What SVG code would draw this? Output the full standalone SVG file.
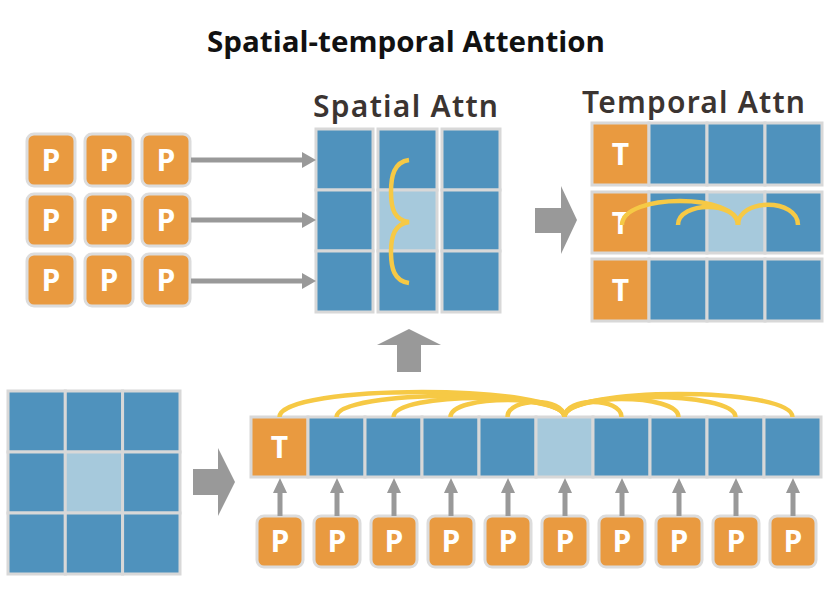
<svg xmlns="http://www.w3.org/2000/svg" width="830" height="600" viewBox="0 0 830 600">
<style>
.p{fill:#E99A40;stroke:#DCDCDC;stroke-width:3}
.b{fill:#4F92BD;stroke:#D8D8D8;stroke-width:3}
.l{fill:#A6C9DC;stroke:#D8D8D8;stroke-width:3}
.o{fill:#E99A40;stroke:#D8D8D8;stroke-width:3}
.t{fill:#fff;font-family:'Open Sans',sans-serif;font-weight:700;font-size:30px;text-anchor:middle}
.arc{fill:none;stroke:#F6C945;stroke-width:4.5;stroke-linecap:butt}
.ln{stroke:#999;stroke-width:5}
.hd{fill:#999}
.h2{font-family:'Noto Sans',sans-serif;font-weight:600;font-size:30px;fill:#3B3431;letter-spacing:2px}
</style>
<rect width="830" height="600" fill="#fff"/>
<text x="406" y="52" text-anchor="middle" font-family="'Open Sans', sans-serif" font-weight="700" font-size="29" textLength="398" lengthAdjust="spacingAndGlyphs" fill="#111">Spatial-temporal Attention</text>

<g id="patches-grid">
<rect class="p" x="27" y="134" width="48" height="52" rx="7"/><text class="t" x="51" y="171">P</text>
<rect class="p" x="85" y="134" width="48" height="52" rx="7"/><text class="t" x="109" y="171">P</text>
<rect class="p" x="142" y="134" width="48" height="52" rx="7"/><text class="t" x="166" y="171">P</text>
<rect class="p" x="27" y="194" width="48" height="52" rx="7"/><text class="t" x="51" y="231">P</text>
<rect class="p" x="85" y="194" width="48" height="52" rx="7"/><text class="t" x="109" y="231">P</text>
<rect class="p" x="142" y="194" width="48" height="52" rx="7"/><text class="t" x="166" y="231">P</text>
<rect class="p" x="27" y="254" width="48" height="52" rx="7"/><text class="t" x="51" y="291">P</text>
<rect class="p" x="85" y="254" width="48" height="52" rx="7"/><text class="t" x="109" y="291">P</text>
<rect class="p" x="142" y="254" width="48" height="52" rx="7"/><text class="t" x="166" y="291">P</text>
</g>

<g id="spatial-attn">
<text class="h2" x="313" y="117" textLength="187">Spatial Attn</text>
<rect class="b" x="316" y="129" width="57" height="61"/>
<rect class="b" x="316" y="190" width="57" height="61"/>
<rect class="b" x="316" y="251" width="57" height="61"/>
<rect class="b" x="378" y="129" width="59" height="61"/>
<rect class="l" x="378" y="190" width="59" height="61"/>
<rect class="b" x="378" y="251" width="59" height="61"/>
<rect class="b" x="442" y="129" width="58" height="61"/>
<rect class="b" x="442" y="190" width="58" height="61"/>
<rect class="b" x="442" y="251" width="58" height="61"/>
<path class="arc" d="M409,160 C394,162 391,176 391,192 C391,210 395,220 409,222 C395,224 391,235 391,252 C391,268 394,281 409,283"/>
</g>

<g id="temporal-attn">
<text class="h2" x="582" y="113" textLength="225">Temporal Attn</text>
<rect class="o" x="592" y="123" width="57" height="62"/><text class="t" x="620.5" y="165">T</text>
<rect class="b" x="649" y="123" width="58" height="62"/>
<rect class="b" x="707" y="123" width="58" height="62"/>
<rect class="b" x="765" y="123" width="57" height="62"/>
<rect class="o" x="592" y="192" width="57" height="61"/><text class="t" x="620.5" y="234">T</text>
<rect class="b" x="649" y="192" width="58" height="61"/>
<rect class="l" x="707" y="192" width="58" height="61"/>
<rect class="b" x="765" y="192" width="57" height="61"/>
<rect class="o" x="592" y="259" width="57" height="62"/><text class="t" x="620.5" y="301">T</text>
<rect class="b" x="649" y="259" width="58" height="62"/>
<rect class="b" x="707" y="259" width="58" height="62"/>
<rect class="b" x="765" y="259" width="57" height="62"/>
</g>

<g id="image-grid">
<rect class="b" x="8" y="391" width="57.3" height="61"/>
<rect class="b" x="65.3" y="391" width="57.3" height="61"/>
<rect class="b" x="122.6" y="391" width="57.4" height="61"/>
<rect class="b" x="8" y="452" width="57.3" height="61"/>
<rect class="l" x="65.3" y="452" width="57.3" height="61"/>
<rect class="b" x="122.6" y="452" width="57.4" height="61"/>
<rect class="b" x="8" y="513" width="57.3" height="61"/>
<rect class="b" x="65.3" y="513" width="57.3" height="61"/>
<rect class="b" x="122.6" y="513" width="57.4" height="61"/>
</g>

<g id="token-sequence">
<rect class="o" x="251" y="417" width="57" height="60"/><text class="t" x="279.5" y="458">T</text>
<rect class="b" x="308" y="417" width="57" height="60"/>
<rect class="b" x="365" y="417" width="57" height="60"/>
<rect class="b" x="422" y="417" width="57" height="60"/>
<rect class="b" x="479" y="417" width="57" height="60"/>
<rect class="l" x="536" y="417" width="57" height="60"/>
<rect class="b" x="593" y="417" width="57" height="60"/>
<rect class="b" x="650" y="417" width="57" height="60"/>
<rect class="b" x="707" y="417" width="57" height="60"/>
<rect class="b" x="764" y="417" width="57" height="60"/>
</g>

<g id="patch-row">
<rect class="p" x="257" y="516" width="46" height="51" rx="7"/><text class="t" x="280" y="552">P</text>
<rect class="p" x="314" y="516" width="46" height="51" rx="7"/><text class="t" x="337" y="552">P</text>
<rect class="p" x="371" y="516" width="46" height="51" rx="7"/><text class="t" x="394" y="552">P</text>
<rect class="p" x="428" y="516" width="46" height="51" rx="7"/><text class="t" x="451" y="552">P</text>
<rect class="p" x="485" y="516" width="46" height="51" rx="7"/><text class="t" x="508" y="552">P</text>
<rect class="p" x="542" y="516" width="46" height="51" rx="7"/><text class="t" x="565" y="552">P</text>
<rect class="p" x="599" y="516" width="46" height="51" rx="7"/><text class="t" x="622" y="552">P</text>
<rect class="p" x="656" y="516" width="46" height="51" rx="7"/><text class="t" x="679" y="552">P</text>
<rect class="p" x="713" y="516" width="46" height="51" rx="7"/><text class="t" x="736" y="552">P</text>
<rect class="p" x="770" y="516" width="46" height="51" rx="7"/><text class="t" x="793" y="552">P</text>
</g>

<g id="connectors">
<line class="ln" x1="191" y1="160" x2="303" y2="160"/><polygon class="hd" points="302,152 316,160 302,168"/>
<line class="ln" x1="191" y1="220" x2="303" y2="220"/><polygon class="hd" points="302,212 316,220 302,228"/>
<line class="ln" x1="191" y1="281" x2="303" y2="281"/><polygon class="hd" points="302,273 316,281 302,289"/>
<polygon class="hd" points="535,208 561,208 561,186 577,220 561,254 561,233 535,233"/>
<polygon class="hd" points="193,469 218,469 218,448 235,482 218,516 218,495 193,495"/>
<polygon class="hd" points="397,372 397,345 377,345 409,329 441,345 421,345 421,372"/>
<path class="arc" d="M622,225 C622,193 738,193 738,225"/>
<path class="arc" d="M678,225 C678,201 738,201 738,225"/>
<path class="arc" d="M738,225 C738,198 798,198 798,225"/>
<path class="arc" d="M279.5,417 C279.5,383.7 564.5,383.7 564.5,417"/>
<path class="arc" d="M336.5,417 C336.5,389 564.5,389 564.5,417"/>
<path class="arc" d="M393.5,417 C393.5,391.7 564.5,391.7 564.5,417"/>
<path class="arc" d="M450.5,417 C450.5,394.3 564.5,394.3 564.5,417"/>
<path class="arc" d="M507.5,417 C507.5,397 564.5,397 564.5,417"/>
<path class="arc" d="M564.5,417 C564.5,397 621.5,397 621.5,417"/>
<path class="arc" d="M564.5,417 C564.5,393 678.5,393 678.5,417"/>
<path class="arc" d="M564.5,417 C564.5,390.3 735.5,390.3 735.5,417"/>
<path class="arc" d="M564.5,417 C564.5,386.3 792.5,386.3 792.5,417"/>
<line class="ln" x1="280" y1="516" x2="280" y2="492"/><polygon class="hd" points="273,493 280,478 287,493"/>
<line class="ln" x1="337" y1="516" x2="337" y2="492"/><polygon class="hd" points="330,493 337,478 344,493"/>
<line class="ln" x1="394" y1="516" x2="394" y2="492"/><polygon class="hd" points="387,493 394,478 401,493"/>
<line class="ln" x1="451" y1="516" x2="451" y2="492"/><polygon class="hd" points="444,493 451,478 458,493"/>
<line class="ln" x1="508" y1="516" x2="508" y2="492"/><polygon class="hd" points="501,493 508,478 515,493"/>
<line class="ln" x1="565" y1="516" x2="565" y2="492"/><polygon class="hd" points="558,493 565,478 572,493"/>
<line class="ln" x1="622" y1="516" x2="622" y2="492"/><polygon class="hd" points="615,493 622,478 629,493"/>
<line class="ln" x1="679" y1="516" x2="679" y2="492"/><polygon class="hd" points="672,493 679,478 686,493"/>
<line class="ln" x1="736" y1="516" x2="736" y2="492"/><polygon class="hd" points="729,493 736,478 743,493"/>
<line class="ln" x1="793" y1="516" x2="793" y2="492"/><polygon class="hd" points="786,493 793,478 800,493"/>
</g>
</svg>
